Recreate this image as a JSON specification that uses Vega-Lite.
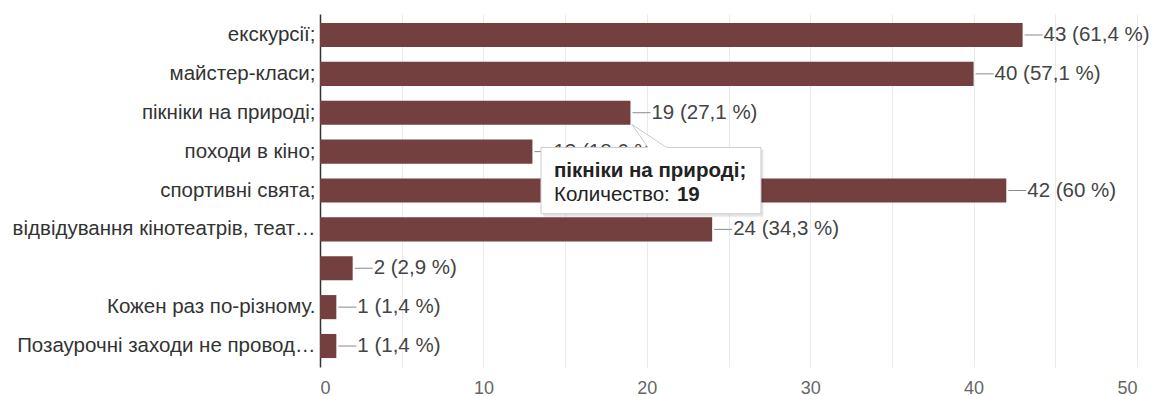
{
  "$schema": "https://vega.github.io/schema/vega-lite/v6.json",
  "width": 817,
  "height": 353,
  "autosize": {"type": "none"},
  "padding": {"left": 320, "top": 14, "right": 17, "bottom": 29},
  "background": "white",
  "config": {
    "view": {"stroke": null},
    "font": "Liberation Sans"
  },
  "datasets": {
    "answers": [
      {"label": "екскурсії;", "count": 43, "text": "43 (61,4 %)"},
      {"label": "майстер-класи;", "count": 40, "text": "40 (57,1 %)"},
      {"label": "пікніки на природі;", "count": 19, "text": "19 (27,1 %)"},
      {"label": "походи в кіно;", "count": 13, "text": "13 (18,6 %)"},
      {"label": "спортивні свята;", "count": 42, "text": "42 (60 %)"},
      {"label": "відвідування кінотеатрів, теат…", "count": 24, "text": "24 (34,3 %)"},
      {"label": " ", "count": 2, "text": "2 (2,9 %)"},
      {"label": "Кожен раз по-різному.", "count": 1, "text": "1 (1,4 %)"},
      {"label": "Позаурочні заходи не провод…", "count": 1, "text": "1 (1,4 %)"}
    ],
    "tip": [
      {"label": "пікніки на природі;", "count": 19, "title": "пікніки на природі;", "key": "Количество:", "value": "19"}
    ]
  },
  "encoding": {
    "y": {
      "field": "label",
      "type": "nominal",
      "sort": ["екскурсії;", "майстер-класи;", "пікніки на природі;", "походи в кіно;", "спортивні свята;", "відвідування кінотеатрів, теат…", " ", "Кожен раз по-різному.", "Позаурочні заходи не провод…"],
      "scale": {"paddingInner": 0.38, "paddingOuter": 0.23},
      "axis": {
        "title": null,
        "ticks": false,
        "domain": true,
        "domainColor": "#333333",
        "domainWidth": 1.5,
        "labelFont": "Liberation Sans",
        "labelFontSize": 20.5,
        "labelColor": "#333333",
        "labelPadding": 5,
        "labelLimit": 400,
        "grid": false
      }
    },
    "x": {
      "field": "count",
      "type": "quantitative",
      "scale": {"domain": [0, 50], "nice": false},
      "axis": {
        "title": null,
        "values": [0, 5, 10, 15, 20, 25, 30, 35, 40, 45, 50],
        "labelExpr": "datum.value % 10 === 0 ? datum.label : ''",
        "ticks": false,
        "domain": false,
        "grid": true,
        "gridColor": "#ebebeb",
        "gridWidth": 1,
        "labelFont": "Liberation Sans",
        "labelFontSize": 18,
        "labelColor": "#666666",
        "labelPadding": 12
      }
    }
  },
  "layer": [
    {
      "data": {"name": "answers"},
      "mark": {"type": "bar", "color": "#743f3f"}
    },
    {
      "data": {"name": "answers"},
      "mark": {"type": "rule", "color": "#8a8a8a", "strokeWidth": 1, "xOffset": 2, "x2Offset": 20},
      "encoding": {"x2": {"field": "count"}}
    },
    {
      "data": {"name": "answers"},
      "mark": {"type": "text", "align": "left", "baseline": "middle", "dx": 21, "fontSize": 20.5, "color": "#444444", "font": "Liberation Sans"},
      "encoding": {"text": {"field": "text"}}
    },
    {
      "data": {"name": "tip"},
      "mark": {
        "type": "point",
        "filled": true,
        "size": 4,
        "shape": "M 4 13 L 38 37 L 133 37 L 133 104 L -87 104 L -87 37 L 20 37 Z",
        "color": "#000000",
        "opacity": 0.1,
        "strokeWidth": 0
      }
    },
    {
      "data": {"name": "tip"},
      "mark": {
        "type": "point",
        "filled": true,
        "size": 4,
        "shape": "M 1.5 11.7 L 36 34.7 L 130.5 34.7 L 130.5 101 L -89.5 101 L -89.5 34.7 L 17.5 34.7 Z",
        "fill": "#ffffff",
        "fillOpacity": 1,
        "opacity": 1,
        "stroke": "#cccccc",
        "strokeWidth": 1
      }
    },
    {
      "data": {"name": "tip"},
      "mark": {"type": "text", "align": "left", "baseline": "alphabetic", "dx": -76.5, "dy": 64.7, "fontSize": 20.5, "fontWeight": "bold", "color": "#222222", "font": "Liberation Sans"},
      "encoding": {"text": {"field": "title"}}
    },
    {
      "data": {"name": "tip"},
      "mark": {"type": "text", "align": "left", "baseline": "alphabetic", "dx": -76.5, "dy": 88.7, "fontSize": 20.5, "color": "#222222", "font": "Liberation Sans"},
      "encoding": {"text": {"field": "key"}}
    },
    {
      "data": {"name": "tip"},
      "mark": {"type": "text", "align": "left", "baseline": "alphabetic", "dx": 46.5, "dy": 88.7, "fontSize": 20.5, "fontWeight": "bold", "color": "#222222", "font": "Liberation Sans"},
      "encoding": {"text": {"field": "value"}}
    }
  ]
}
